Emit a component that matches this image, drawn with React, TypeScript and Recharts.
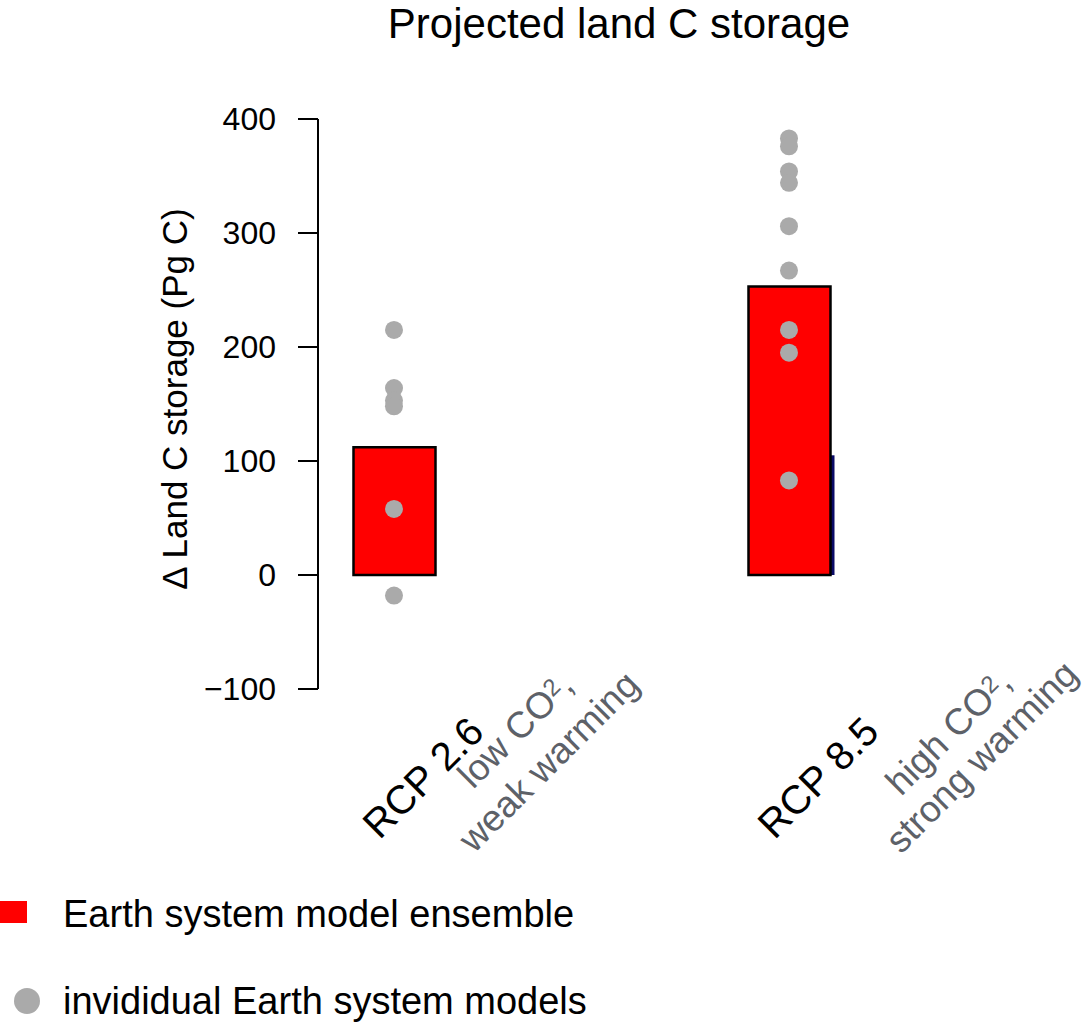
import React from "react";
import { ComposedChart, Bar, Scatter, XAxis, YAxis } from "recharts";

// ─── Colours / font ─────────────────────────────────────────────────────────
const FONT = "'Liberation Sans', Arial, Helvetica, sans-serif";
const C_RED = "#ff0000";
const C_POINT = "#aaaaaa";
const C_NAVY = "#0a0a66";
const C_NOTE = "#5d6168";

// ─── Data ───────────────────────────────────────────────────────────────────
const scenarios = ["RCP 2.6", "RCP 8.5"];
const scenarioPos = [1, 2];
const scenarioNotes = [
  ["low CO₂,", "weak warming"],
  ["high CO₂,", "strong warming"],
];
const ensembleMean = [112, 253];
const hiddenBar = [null, 105];
const rcp26Models = [215, 164, 153, 148, 58, -18];
const rcp85Models = [383, 376, 354, 344, 306, 267, 215, 195, 83];
const yTicks = [-100, 0, 100, 200, 300, 400];

const chartData = scenarios.map((name, i) => ({
  name,
  x: scenarioPos[i],
  v: ensembleMean[i],
  w: hiddenBar[i],
}));

const modelPoints = [
  ...rcp26Models.map((v) => ({ x: scenarioPos[0], v })),
  ...rcp85Models.map((v) => ({ x: scenarioPos[1], v })),
];

// start of each note line, relative to the tick
const NOTE_OFFSETS = [
  [[79, 101], [80, 165]],
  [[112, 108], [112, 166]],
];

function NoteLine({ text, x, y }: { text: string; x: number; y: number }) {
  const parts = text.split("₂");
  return (
    <text
      x={x}
      y={y}
      transform={`rotate(-45 ${x} ${y})`}
      fontSize={37}
      fill={C_NOTE}
      fontFamily={FONT}
    >
      {parts[0]}
      {parts.length > 1 && (
        <>
          <tspan fontSize={24} dy={-9}>2</tspan>
          <tspan dy={9}>{parts[1]}</tspan>
        </>
      )}
    </text>
  );
}

function ScenarioTick(props: any) {
  const { x, y, payload } = props;
  const i = scenarioPos.indexOf(payload.value);
  if (i < 0) return null;
  const ax = x + 92;
  const ay = y + 45;
  return (
    <g>
      <text
        x={ax}
        y={ay}
        transform={`rotate(-45 ${ax} ${ay})`}
        textAnchor="end"
        fontSize={40}
        fill="#000"
        fontFamily={FONT}
      >
        {scenarios[i]}
      </text>
      {scenarioNotes[i].map((line, j) => (
        <NoteLine
          key={line}
          text={line}
          x={x + NOTE_OFFSETS[i][j][0]}
          y={y + NOTE_OFFSETS[i][j][1]}
        />
      ))}
    </g>
  );
}

const dot = (p: any) => <circle cx={p.cx} cy={p.cy} r={9} fill={C_POINT} />;

export default function App() {
  return (
    <div style={{ position: "absolute", left: 0, top: 0, width: 1086, height: 1023, background: "#fff" }}>
      <ComposedChart
        width={1086}
        height={1023}
        data={chartData}
        margin={{ top: 119, right: 20.5, bottom: 304, left: 0 }}
      >
        <XAxis
          dataKey="x"
          type="number"
          domain={[0.8076, 2.7]}
          ticks={scenarioPos}
          axisLine={false}
          tickLine={false}
          tickSize={0}
          tickMargin={0}
          height={30}
          tick={<ScenarioTick />}
          interval={0}
        />
        <XAxis xAxisId="b" dataKey="x" type="number" domain={[0.8076, 2.7]} hide />
        <YAxis
          dataKey="v"
          type="number"
          domain={[-100, 400]}
          ticks={yTicks}
          interval={0}
          width={318}
          tickSize={20}
          tickMargin={22}
          axisLine={{ stroke: "#000", strokeWidth: 2 }}
          tickLine={{ stroke: "#000", strokeWidth: 2 }}
          tick={{ fontSize: 32, fill: "#000", fontFamily: FONT }}
          tickFormatter={(v: number) => (v < 0 ? `−${Math.abs(v)}` : `${v}`)}
        />
        <Bar
          xAxisId="b"
          dataKey="w"
          barSize={82}
          fill={C_NAVY}
          isAnimationActive={false}
          shape={(p: any) => <rect x={p.x + 4} y={p.y} width={p.width} height={p.height} fill={C_NAVY} />}
        />
        <Bar
          dataKey="v"
          barSize={82}
          fill={C_RED}
          stroke="#000"
          strokeWidth={2.5}
          isAnimationActive={false}
        />
        <Scatter data={modelPoints} dataKey="v" fill={C_POINT} shape={dot} isAnimationActive={false} />
      </ComposedChart>

      <svg
        width={1086}
        height={1023}
        style={{ position: "absolute", left: 0, top: 0, pointerEvents: "none" }}
        fontFamily={FONT}
      >
        <text x={619} y={38} textAnchor="middle" fontSize={42} fill="#000">
          Projected land C storage
        </text>
        <text x={187} y={399} transform="rotate(-90 187 399)" textAnchor="middle" fontSize={35} fill="#000">
          Δ Land C storage (Pg C)
        </text>
        <rect x={0} y={901} width={27} height={22} fill={C_RED} />
        <text x={63} y={927} fontSize={38} fill="#000">Earth system model ensemble</text>
        <circle cx={27} cy={1001} r={13} fill={C_POINT} />
        <text x={63} y={1014} fontSize={38} fill="#000">invididual Earth system models</text>
      </svg>
    </div>
  );
}
